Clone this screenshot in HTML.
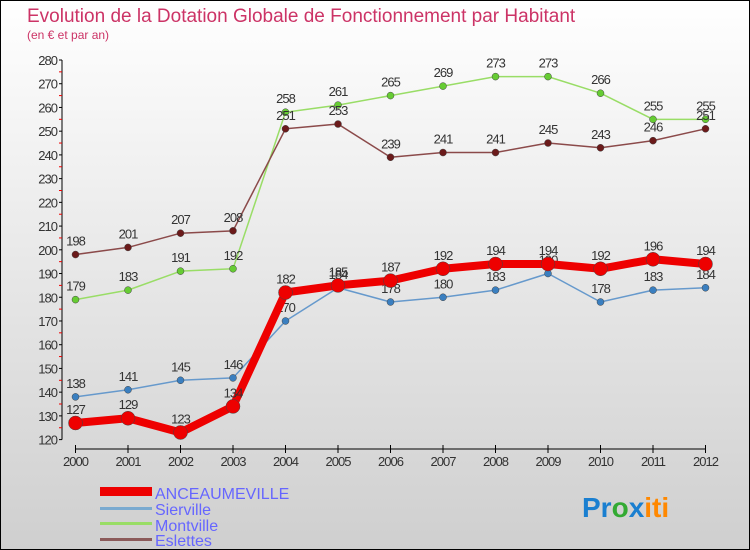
<!DOCTYPE html>
<html><head><meta charset="utf-8"><style>
body{margin:0}
svg{display:block;font-family:"Liberation Sans",sans-serif}
</style></head><body>
<svg id="c" width="750" height="550" viewBox="0 0 750 550">
<defs><linearGradient id="bg" x1="0" y1="0" x2="0" y2="1"><stop offset="0" stop-color="#ffffff"/><stop offset="1" stop-color="#cfcfcf"/></linearGradient></defs>
<rect x="0.5" y="0.5" width="749" height="549" fill="url(#bg)" stroke="#000"/>
<text x="27" y="22" font-size="19" fill="#cc3366">Evolution de la Dotation Globale de Fonctionnement par Habitant</text>
<text x="27" y="39" font-size="12" fill="#cc3366">(en € et par an)</text>
<g id="axes"></g><g id="series"></g>
<g>
<rect x="100" y="487" width="52" height="9" fill="#ee0000"/>
<text x="155" y="499" font-size="16" fill="#6666ff">ANCEAUMEVILLE</text>
<rect x="100" y="507" width="52" height="3" fill="#7aaad0"/>
<text x="155" y="515" font-size="16" fill="#6666ff">Sierville</text>
<rect x="100" y="522" width="52" height="3" fill="#99dd66"/>
<text x="155" y="531" font-size="16" fill="#6666ff">Montville</text>
<rect x="100" y="538" width="52" height="3" fill="#8b5a5a"/>
<text x="155" y="546" font-size="16" fill="#6666ff">Eslettes</text>
</g>
<g font-size="28" font-weight="bold">
<text x="582" y="517"><tspan fill="#1a7fd0">Pr</tspan><tspan fill="#33aa33">o</tspan><tspan fill="#1a7fd0">x</tspan><tspan fill="#ff8800">iti</tspan></text>
</g>
</svg>
<script>
const years=[2000,2001,2002,2003,2004,2005,2006,2007,2008,2009,2010,2011,2012];
const yTicks=[120,130,140,150,160,170,180,190,200,210,220,230,240,250,260,270,280];
const anceaumeville=[127,129,123,134,182,185,187,192,194,194,192,196,194];
const sierville=[138,141,145,146,170,184,178,180,183,190,178,183,184];
const montville=[179,183,191,192,258,261,265,269,273,273,266,255,255];
const eslettes=[198,201,207,208,251,253,239,241,241,245,243,246,251];
const NS='http://www.w3.org/2000/svg';
const xs=i=>75.5+i*(705.5-75.5)/(years.length-1);
const ys=v=>60+(280-v)*(439.6-60)/160;
function mk(t,a,p){const e=document.createElementNS(NS,t);for(const k in a)e.setAttribute(k,a[k]);p.appendChild(e);return e;}
const ax=document.getElementById('axes');
const yAxis=mk('line',{x1:62,y1:ys(280),x2:62,y2:ys(120),stroke:'#000'},ax);


yTicks.forEach(v=>{
 mk('line',{x1:59,x2:62,y1:ys(v),y2:ys(v),stroke:'#000'},ax);
 if(v<280)mk('line',{x1:59,x2:62,y1:ys(v+5),y2:ys(v+5),stroke:'#ee0000'},ax);
 const t=mk('text',{x:57,y:ys(v)+5,'text-anchor':'end','font-size':13,fill:'#333','letter-spacing':'-1'},ax);
 t.textContent=v;
 
 
});
const xAxis=mk('line',{x1:xs(0),y1:449,x2:xs(12),y2:449,stroke:'#000'},ax);


years.forEach((y,i)=>{
 mk('line',{x1:xs(i),x2:xs(i),y1:445,y2:453,stroke:'#000'},ax);
 const t=mk('text',{x:xs(i),y:466,'text-anchor':'middle','font-size':13,fill:'#333','letter-spacing':'-1'},ax);
 t.textContent=y;
 
 
});
const sg=document.getElementById('series');
function draw(name,data,lc,dc,w,r){
 const g=mk('g',{},sg);
 
 
 mk('polyline',{points:data.map((v,i)=>xs(i)+','+ys(v)).join(' '),fill:'none',stroke:lc,'stroke-width':w,'stroke-linejoin':'round'},g);
 data.forEach((v,i)=>{
  const c=mk('circle',{cx:xs(i),cy:ys(v),r:r,fill:dc,stroke:'#444','stroke-width':0.5},g);
  
  
  const t=mk('text',{x:xs(i),y:ys(v)-9,'text-anchor':'middle','font-size':13,fill:'#333','letter-spacing':'-1'},g);
  t.textContent=v;
  
  
 });
}
draw('montville',montville,'#99dd66','#66cc33',1.5,3.5);
draw('eslettes',eslettes,'#8b4a4a','#6b1a1a',1.5,3.5);
draw('sierville',sierville,'#6699cc','#3a7fc0',1.5,3.5);
draw('anceaumeville',anceaumeville,'#ee0000','#ee0000',8,7);
</script>
</body></html>
